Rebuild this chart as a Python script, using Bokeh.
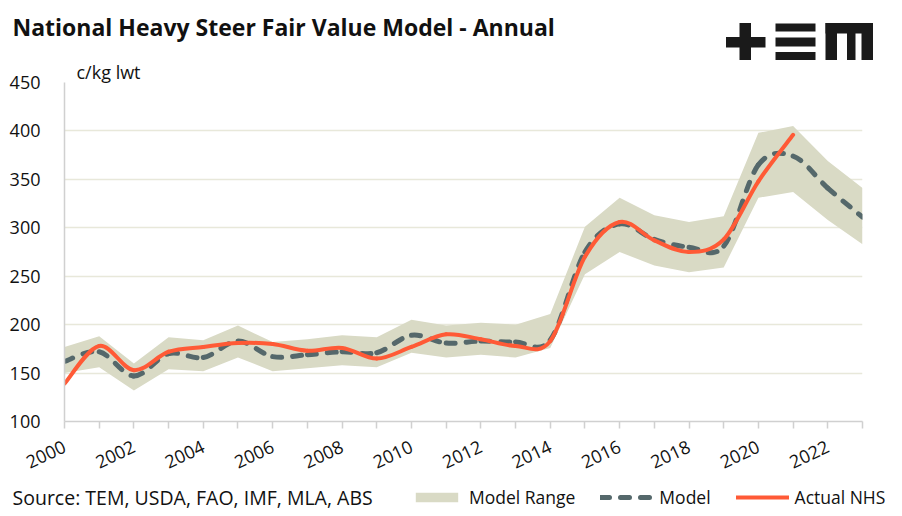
from bokeh.plotting import figure
from bokeh.layouts import column
from bokeh.models import (Range1d, FixedTicker, Label, Legend, LegendItem,
                          ColumnDataSource)
from bokeh.embed import file_html
from bokeh.resources import INLINE

# ---------------- data ----------------
years = list(range(2000, 2024))
model = [162, 172, 147, 170, 166, 183, 167, 169, 172, 171, 189, 181,
         183, 182, 184, 275, 304, 288, 280, 281, 365, 374, 341, 311]
actual_years = list(range(2000, 2022))
actual = [139, 178, 153, 172, 177, 181, 180, 173, 176, 165, 177, 190,
          185, 178, 183, 270, 306, 287, 275, 288, 348, 396]
range_low = [150, 156, 132, 154, 152, 166, 152, 155, 158, 156, 171, 166,
             169, 166, 176, 252, 275, 261, 254, 259, 331, 337, 308, 283]
range_high = [177, 188, 160, 187, 184, 199, 182, 185, 189, 187, 205, 199,
              202, 200, 211, 301, 331, 313, 306, 312, 398, 405, 369, 341]
y_ticks = [100, 150, 200, 250, 300, 350, 400, 450]
x_labels = {y: (str(y) if y % 2 == 0 else "") for y in years}

TITLE = "National Heavy Steer Fair Value Model - Annual"
UNIT = "c/kg lwt"
SOURCE = "Source: TEM, USDA, FAO, IMF, MLA, ABS"

BAND = "#D9DAC5"
MODEL_C = "#55686B"
ACTUAL_C = "#FF5A36"
GRID = "#E8E8DA"
AXIS = "#D0D0D0"
TXT = "#111111"
FONT = "Open Sans"
W = 900
MODEL_DASH = "9 11"


def smooth(xs, ys, t=1.0 / 6.0):
    """Bezier segments (Excel-like smoothed line) through the data points."""
    n = len(xs)
    d = dict(x0=[], y0=[], x1=[], y1=[], cx0=[], cy0=[], cx1=[], cy1=[])
    for i in range(n - 1):
        a = i - 1 if i > 0 else i
        b = i + 2 if i + 2 < n else i + 1
        d["x0"].append(xs[i]); d["y0"].append(ys[i])
        d["x1"].append(xs[i + 1]); d["y1"].append(ys[i + 1])
        d["cx0"].append(xs[i] + (xs[i + 1] - xs[a]) * t)
        d["cy0"].append(ys[i] + (ys[i + 1] - ys[a]) * t)
        d["cx1"].append(xs[i + 1] - (xs[b] - xs[i]) * t)
        d["cy1"].append(ys[i + 1] - (ys[b] - ys[i]) * t)
    return ColumnDataSource(d)


def blank(h):
    f = figure(width=W, height=h, output_backend="svg", toolbar_location=None,
               x_range=Range1d(0, W), y_range=Range1d(0, h),
               x_axis_location=None, y_axis_location=None, min_border=0,
               frame_align=False)
    f.title = None
    f.outline_line_color = None
    f.grid.visible = False
    return f


# ---------------- header: title + logo ----------------
HH = 60
head = blank(HH)
head.add_layout(Label(x=12, y=HH - 26, text=TITLE, text_font=FONT,
                      text_font_style="bold", text_font_size="23px",
                      text_color=TXT, text_baseline="middle"))
LOGO = "#1A1A1A"
# (left, right, top, bottom) in header pixels from the top
logo_boxes = [
    (739, 750.5, 22.5, 59.5),   # plus vertical
    (725.5, 765, 36.5, 47),     # plus horizontal
    (775, 815, 23, 31),         # equals top
    (775, 815, 37, 46),         # equals middle
    (775, 815, 51.5, 59.5),     # equals bottom
    (825, 872.5, 22.5, 33),     # m top
    (825, 836.5, 22.5, 59.5),   # m left leg
    (846.5, 855, 22.5, 59.5),   # m middle leg
    (861, 872.5, 22.5, 59.5),   # m right leg
]
head.quad(left=[b[0] for b in logo_boxes], right=[b[1] for b in logo_boxes],
          top=[HH - b[2] for b in logo_boxes],
          bottom=[HH - b[3] for b in logo_boxes],
          fill_color=LOGO, line_color=None)

# ---------------- main chart ----------------
p = figure(width=W, height=424, output_backend="svg", toolbar_location=None,
           x_range=Range1d(2000, 2023), y_range=Range1d(100, 450),
           min_border_left=64, min_border_right=38, min_border_top=22,
           min_border_bottom=63, title=UNIT, frame_align=False)
p.title.text_font = FONT
p.title.text_font_size = "18px"
p.title.text_font_style = "normal"
p.title.text_color = TXT
p.title.align = "left"
p.title.vertical_align = "top"
p.title.offset = 12
p.title.standoff = -6
p.outline_line_color = None
p.background_fill_color = "white"
p.xgrid.grid_line_color = None
p.ygrid.grid_line_color = GRID
p.ygrid.grid_line_width = 1.5

band = p.varea(x=years, y1=range_low, y2=range_high, fill_color=BAND,
               fill_alpha=1.0)
p.bezier(source=smooth(years, model), x0="x0", y0="y0", x1="x1", y1="y1",
         cx0="cx0", cy0="cy0", cx1="cx1", cy1="cy1", line_color=MODEL_C,
         line_width=5, line_dash=MODEL_DASH, line_cap="round")
p.bezier(source=smooth(actual_years, actual), x0="x0", y0="y0", x1="x1",
         y1="y1", cx0="cx0", cy0="cy0", cx1="cx1", cy1="cy1",
         line_color=ACTUAL_C, line_width=4, line_cap="round")

xa = p.xaxis[0]
xa.ticker = FixedTicker(ticks=years)
xa.major_label_overrides = x_labels
xa.major_label_orientation = 0.44
xa.axis_line_color = AXIS
xa.axis_line_width = 1.5
xa.major_tick_line_color = AXIS
xa.major_tick_line_width = 1.5
xa.major_tick_out = 7
xa.major_tick_in = 0
xa.minor_tick_line_color = None
xa.major_label_text_font = FONT
xa.major_label_text_font_size = "18px"
xa.major_label_text_color = TXT
xa.major_label_standoff = 17

ya = p.yaxis[0]
ya.ticker = FixedTicker(ticks=y_ticks)
ya.axis_line_color = AXIS
ya.axis_line_width = 1.5
ya.major_tick_out = 0
ya.major_tick_in = 0
ya.minor_tick_line_color = None
ya.major_label_text_font = FONT
ya.major_label_text_font_size = "18px"
ya.major_label_text_color = TXT
ya.major_label_standoff = 24

# ---------------- footer: source + legend ----------------
FH = 30
foot = blank(FH)
foot.add_layout(Label(x=12, y=FH - 13, text=SOURCE, text_font=FONT,
                      text_font_size="19.5px", text_color=TXT,
                      text_baseline="middle"))
# legend keys (same styles as the chart; their data lies outside this strip)
leg_band = foot.varea(x=years, y1=range_low, y2=range_high, fill_color=BAND,
                      fill_alpha=1.0)
leg_model = foot.line(x=years, y=model, line_color=MODEL_C, line_width=5,
                      line_dash=MODEL_DASH, line_cap="round")
leg_act = foot.line(x=actual_years, y=actual, line_color=ACTUAL_C,
                    line_width=4, line_cap="round")
legend = Legend(items=[LegendItem(label="Model Range", renderers=[leg_band]),
                       LegendItem(label="Model", renderers=[leg_model]),
                       LegendItem(label="Actual NHS", renderers=[leg_act])],
                location=(410, 5), orientation="horizontal",
                glyph_width=53, glyph_height=12, label_standoff=6,
                spacing=25, padding=0, margin=0,
                label_text_font=FONT, label_text_font_size="17.5px",
                label_text_color=TXT,
                background_fill_alpha=0, border_line_alpha=0)
foot.add_layout(legend)

layout = column(head, p, foot, spacing=0)
open("out.html", "w").write(file_html(layout, INLINE))
